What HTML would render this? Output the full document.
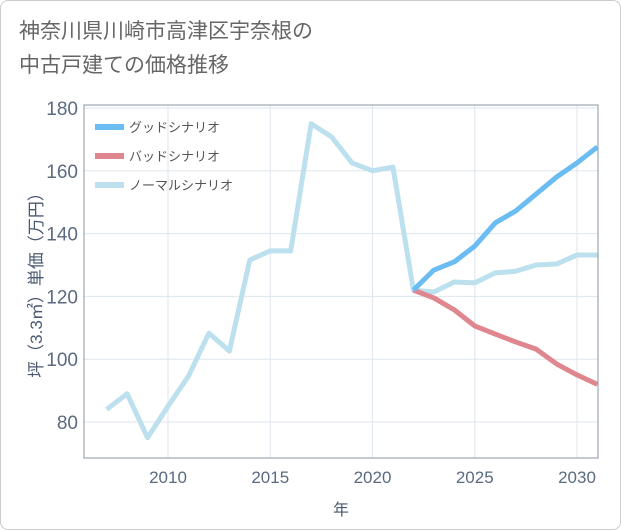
<!DOCTYPE html>
<html><head><meta charset="utf-8"><style>
body{margin:0;background:#fff;font-family:"Liberation Sans","Noto Sans CJK JP",sans-serif;}
#wrap{position:relative;width:619px;height:528px;border:1px solid #ccc;border-radius:8px;overflow:hidden;background:#fff}
#title{position:absolute;left:18px;top:14px;font-size:21px;line-height:34px;color:#666;}
svg{position:absolute;left:0;top:0}
</style></head><body>
<div id="wrap">
<div id="title">神奈川県川崎市高津区宇奈根の<br>中古戸建ての価格推移</div>
<svg id="chart" width="621" height="530"></svg>
</div>
<script>
const years=[2007,2008,2009,2010,2011,2012,2013,2014,2015,2016,2017,2018,2019,2020,2021,2022,2023,2024,2025,2026,2027,2028,2029,2030,2031];
const normalValues=[84,89,75,85,94.6,108.3,102.6,131.6,134.5,134.5,175,170.8,162.5,160,161.2,122,121.4,124.6,124.3,127.5,128,130,130.3,133.2,133.2];
const futureYears=[2022,2023,2024,2025,2026,2027,2028,2029,2030,2031];
const goodValues=[122,128.4,131,136,143.4,147.2,152.6,158,162.5,167.6];
const badValues=[122,119.5,115.7,110.6,108,105.5,103.2,98.5,95,92];
const yTicks=[80,100,120,140,160,180];
const xTicks=[2010,2015,2020,2025,2030];
const legendLabels=["グッドシナリオ","バッドシナリオ","ノーマルシナリオ"];
const colors=["#6bbcf2","#e0868e","#bde0ee"];
const L=83,R=597,T=104,B=457;
const x=v=>167+(v-2010)*20.45;
const y=v=>421-(v-80)*3.14;
const svg=document.getElementById('chart');
const NS='http://www.w3.org/2000/svg';
function mk(t,a){const e=document.createElementNS(NS,t);for(const k in a)e.setAttribute(k,a[k]);svg.appendChild(e);return e;}
const clip=mk('clipPath',{id:'pc'});const cr=document.createElementNS(NS,'rect');
cr.setAttribute('x',L);cr.setAttribute('y',T);cr.setAttribute('width',R-L);cr.setAttribute('height',B-T);clip.appendChild(cr);
yTicks.forEach(v=>{
 const g=mk('line',{x1:L,x2:R,y1:y(v),y2:y(v),stroke:'#dde6ee','stroke-width':1});
 
 const t=mk('text',{x:L-6,y:y(v)+7,'text-anchor':'end','font-size':19,fill:'#5a6a80'});t.textContent=v;
 
});
xTicks.forEach(v=>{
 const g=mk('line',{x1:x(v),x2:x(v),y1:T,y2:B,stroke:'#dde6ee','stroke-width':1});
 
 const t=mk('text',{x:x(v),y:B+25,'text-anchor':'middle','font-size':17,fill:'#5a6a80'});t.textContent=v;
 
});
const frame=mk('rect',{x:L,y:T,width:R-L,height:B-T,fill:'none',stroke:'#8a96a3','stroke-width':1});

function line(xs,vs,c,name){
 const p=mk('polyline',{points:xs.map((d,i)=>x(d)+','+y(vs[i])).join(' '),fill:'none',stroke:c,'stroke-width':5,'stroke-linejoin':'round','clip-path':'url(#pc)'});
 
}
line(years,normalValues,colors[2],'normal-scenario-line');
line(futureYears,badValues,colors[1],'bad-scenario-line');
line(futureYears,goodValues,colors[0],'good-scenario-line');
legendLabels.forEach((s,i)=>{
 const yy=126+i*29;
 const r=mk('rect',{x:94,y:yy-3,width:29,height:6,fill:colors[i]});
 
 const t=mk('text',{x:128,y:yy+5,'font-size':13,fill:'#555'});t.textContent=s;
 
});
const xt=mk('text',{x:340,y:514,'text-anchor':'middle','font-size':16,fill:'#4a5a70'});xt.textContent='年';

const yt=mk('text',{x:0,y:0,'text-anchor':'middle','font-size':17,fill:'#4a5a70',transform:'translate(41,280) rotate(-90)'});yt.textContent='坪（3.3㎡）単価（万円）';

</script>
</body></html>
